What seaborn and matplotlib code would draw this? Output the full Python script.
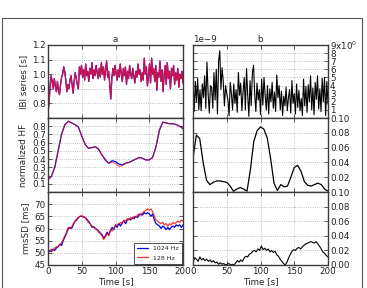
import numpy as np
import pandas as pd
import matplotlib
matplotlib.use("Agg")
import matplotlib.pyplot as plt
import seaborn as sns
from matplotlib.patches import Rectangle

# ---------------- data ----------------
ibi_128 = [0.74,0.80,0.92,0.99,0.95,0.90,0.97,0.92,0.88,0.95,0.89,0.86,0.93,0.98,1.00,1.05,1.02,0.96,0.88,0.93,
           0.90,0.96,0.99,0.93,0.87,0.95,1.01,0.97,0.93,0.90,1.05,1.00,1.06,0.98,1.03,0.96,1.07,0.99,1.02,0.95,
           1.04,1.00,1.08,0.97,1.03,0.99,1.06,1.01,0.97,1.04,0.98,1.08,1.00,1.05,0.96,1.03,1.09,0.98,1.02,0.93,
           0.83,0.97,1.04,0.99,1.06,1.01,0.96,1.03,0.98,1.07,1.00,0.95,1.04,0.99,1.05,0.93,1.02,0.97,1.06,1.00,
           0.97,1.04,0.99,0.94,1.02,0.98,1.07,1.00,1.03,0.95,1.01,0.96,1.11,1.00,1.05,0.92,0.99,1.07,0.94,1.11,
           1.00,1.04,0.95,1.06,0.89,1.01,0.98,1.09,0.95,1.03,0.88,1.00,1.06,0.93,1.08,0.97,1.02,0.90,1.04,0.99,
           1.06,0.93,1.01,0.96,1.04,0.91,1.00,0.97,1.02,0.94]

ibi_diff = [4.8,0.8,4.5,2.0,4.9,1.0,3.5,0.9,4.2,2.5,5.2,1.2,6.9,3.0,0.6,4.0,3.8,1.2,5.6,2.2,
            6.0,0.5,7.0,8.3,3.5,6.2,4.5,1.5,4.0,3.0,2.2,0.3,4.4,3.0,1.0,4.2,1.8,3.5,0.7,5.6,
            2.8,4.3,0.9,3.2,5.0,1.0,6.1,2.8,0.2,4.6,1.5,5.5,6.5,3.0,0.8,4.3,2.2,3.5,0.4,4.8,
            1.6,5.0,2.8,1.0,4.0,0.5,3.6,2.0,4.4,1.2,3.2,0.8,5.3,2.5,4.0,1.0,3.3,0.3,2.7,1.5,
            3.8,0.9,2.5,3.5,0.6,4.6,1.8,3.0,0.5,4.2,1.3,3.4,0.9,2.4,0.3,4.8,1.5,3.9,0.7,4.1,
            2.0,5.2,1.0,3.7,0.4,4.4,2.3,5.2,1.1,3.6,0.8,4.9,2.0,5.0,0.3,4.5,1.7]

hf_1024 = [0.15,0.19,0.30,0.50,0.70,0.82,0.86,0.84,0.82,0.79,0.68,0.58,0.53,0.54,0.55,0.52,0.45,0.39,0.35,0.38,
           0.37,0.34,0.33,0.35,0.36,0.38,0.40,0.42,0.41,0.39,0.39,0.42,0.55,0.75,0.85,0.84,0.83,0.83,0.82,0.80,0.77]
hf_128  = [0.15,0.19,0.30,0.50,0.70,0.82,0.86,0.84,0.82,0.79,0.68,0.58,0.53,0.54,0.55,0.52,0.45,0.39,0.35,0.36,
           0.35,0.31,0.32,0.35,0.36,0.38,0.40,0.42,0.41,0.39,0.39,0.42,0.55,0.75,0.85,0.84,0.83,0.83,0.82,0.80,0.77]

hf_diff = [0.046,0.077,0.072,0.040,0.016,0.010,0.013,0.015,0.015,0.014,0.013,0.008,0.001,0.004,0.006,0.004,0.001,
           0.030,0.068,0.083,0.088,0.085,0.073,0.045,0.012,0.002,0.010,0.007,0.008,0.020,0.033,0.036,0.028,
           0.014,0.009,0.008,0.010,0.012,0.010,0.004,0.001]

rmssd_1024 = [50.0,51.0,50.5,51.5,51.0,52.0,52.5,53.5,53.0,55.0,56.5,58.0,60.0,60.5,60.0,61.5,63.0,63.5,64.5,65.0,
              65.0,64.8,64.5,63.8,63.0,62.0,60.5,60.8,60.0,59.5,59.0,58.0,57.5,56.0,57.0,58.5,57.5,59.0,60.5,59.5,
              61.5,60.5,62.0,61.0,62.5,63.0,62.0,63.5,64.0,63.5,64.5,64.0,65.0,64.5,65.5,66.0,65.5,66.5,66.0,66.5,
              66.0,65.0,66.0,63.5,62.0,61.5,61.0,60.0,61.0,60.5,59.5,60.5,59.5,60.5,61.0,60.5,61.5,61.0,61.5,60.5,61.5]
rmssd_128 = [50.5,50.5,51.5,51.0,52.0,52.5,52.5,53.5,54.0,55.5,57.0,58.5,60.5,60.0,60.5,62.0,63.0,64.0,64.5,65.0,
             65.2,65.0,64.3,63.5,62.5,61.8,61.0,60.5,60.2,59.5,58.5,58.0,57.0,55.5,56.5,58.0,57.0,59.5,59.0,60.0,
             61.0,61.5,62.0,62.5,62.0,63.5,63.0,64.0,63.5,64.5,64.0,65.0,64.5,65.5,66.0,65.5,66.5,67.0,67.5,68.0,
             67.5,68.0,67.0,65.0,63.5,63.0,62.5,62.0,62.5,61.5,62.0,61.0,62.0,61.5,62.5,62.0,62.5,63.0,62.5,63.5,63.0]

rmssd_diff = [0.004,0.010,0.008,0.005,0.011,0.007,0.009,0.006,0.008,0.005,0.007,0.004,0.006,0.003,0.004,0.001,
              0.003,0.001,0.002,0.000,0.001,0.002,0.000,0.001,0.000,0.003,0.006,0.004,0.007,0.005,0.010,0.012,
              0.011,0.015,0.016,0.019,0.020,0.018,0.022,0.020,0.026,0.021,0.023,0.020,0.022,0.018,0.020,0.017,
              0.019,0.014,0.012,0.008,0.005,0.002,0.000,0.004,0.010,0.015,0.019,0.021,0.020,0.023,0.024,0.022,
              0.025,0.027,0.029,0.030,0.031,0.032,0.031,0.030,0.032,0.029,0.026,0.022,0.018,0.016,0.013,0.011]

def tgrid(vals):
    return np.linspace(0, 200, len(vals))

# ---------------- style ----------------
sns.set_style("white")
plt.rcParams['font.family'] = ['DejaVu Sans']
plt.rcParams['font.size'] = 6.5

fig = plt.figure(figsize=(3.67, 2.88), dpi=100)
fig.patches.append(Rectangle((2/367, -0.1), 360/367, 1.1 - 18/288, transform=fig.transFigure,
                             fill=False, edgecolor='#555555', linewidth=0.8, zorder=0))

L0, L1 = 48/367, 183/367
R0, R1 = 193/367, 328/367
ys = [1-118/288, 1-192/288, 1-265/288]
tops = [1-45/288, 1-118/288, 1-192/288]

axes = {}
for r in range(3):
    h = tops[r] - ys[r]
    axes[(r, 0)] = fig.add_axes([L0, ys[r], L1-L0, h])
    axes[(r, 1)] = fig.add_axes([R0, ys[r], R1-R0, h])

BLUE = '#0000ee'
RED = '#ee1111'
FS = 6.3

def style(ax, right=False):
    ax.set_xlim(0, 200)
    ax.set_xticks([0, 50, 100, 150, 200])
    ax.grid(True, color='#aaaaaa', linestyle=':', linewidth=0.6)
    for s in ax.spines.values():
        s.set_color('#3a3a3a')
        s.set_linewidth(1.0)
    ax.tick_params(direction='in', length=3, width=0.5, labelsize=FS, pad=1.5,
                   top=True, bottom=True, left=True, right=True, colors='#222222')
    if right:
        ax.yaxis.tick_right()
        ax.tick_params(left=True, right=True, labelleft=False, labelright=True)

# top-left
ax = axes[(0, 0)]
sns.lineplot(x=tgrid(ibi_128), y=np.array(ibi_128), ax=ax, color=BLUE, linewidth=0.9)
sns.lineplot(x=tgrid(ibi_128), y=np.array(ibi_128), ax=ax, color='#d0104a', linewidth=0.9)
style(ax)
ax.set_ylim(0.7, 1.2)
ax.set_yticks([0.8, 0.9, 1.0, 1.1, 1.2])
ax.set_ylabel('IBI series [s]', fontsize=FS, labelpad=3)
ax.set_title('a', fontsize=FS, pad=2)
ax.tick_params(labelbottom=False)

# top-right
ax = axes[(0, 1)]
sns.lineplot(x=tgrid(ibi_diff), y=np.array(ibi_diff), ax=ax, color='black', linewidth=0.8)
style(ax, right=True)
ax.set_ylim(0, 9)
ax.set_yticks([1, 2, 3, 4, 5, 6, 7, 8, 9])
ax.set_yticklabels(['1', '2', '3', '4', '5', '6', '7', '8', '9x10$^0$'])
ax.set_title('b', fontsize=FS, pad=2)
ax.text(0.0, 1.02, '1e\u22129', transform=ax.transAxes, fontsize=FS, ha='left', va='bottom')
ax.tick_params(labelbottom=False)

# middle-left
ax = axes[(1, 0)]
sns.lineplot(x=tgrid(hf_1024), y=np.array(hf_1024), ax=ax, color=BLUE, linewidth=0.9)
sns.lineplot(x=tgrid(hf_128), y=np.array(hf_128), ax=ax, color=RED, linewidth=0.9, alpha=0.6)
style(ax)
ax.set_ylim(0, 0.9)
ax.set_yticks([0.1, 0.2, 0.3, 0.4, 0.5, 0.6, 0.7, 0.8])
ax.set_ylabel('normalized HF', fontsize=FS, labelpad=3)
ax.tick_params(labelbottom=False)

# middle-right
ax = axes[(1, 1)]
sns.lineplot(x=tgrid(hf_diff), y=np.array(hf_diff), ax=ax, color='black', linewidth=0.9)
style(ax, right=True)
ax.set_ylim(0, 0.10)
ax.set_yticks([0.02, 0.04, 0.06, 0.08, 0.10])
ax.set_yticklabels(['0.02', '0.04', '0.06', '0.08', '0.10'])
ax.tick_params(labelbottom=False)

# bottom-left
ax = axes[(2, 0)]
sns.lineplot(x=tgrid(rmssd_1024), y=np.array(rmssd_1024), ax=ax, color=BLUE, linewidth=0.9, label='1024 Hz')
sns.lineplot(x=tgrid(rmssd_128), y=np.array(rmssd_128), ax=ax, color=RED, linewidth=0.9, alpha=0.85, label='128 Hz')
style(ax)
ax.set_ylim(45, 75)
ax.set_yticks([45, 50, 55, 60, 65, 70])
ax.set_ylabel('rmsSD [ms]', fontsize=FS, labelpad=3)
ax.set_xlabel('Time [s]', fontsize=FS, labelpad=0.5)
leg = ax.legend(loc='lower right', fontsize=4.5, frameon=True, fancybox=False,
                handlelength=1.8, borderaxespad=0.2, borderpad=0.5, labelspacing=0.6)
leg.get_frame().set_edgecolor('black')
leg.get_frame().set_linewidth(0.6)

# bottom-right
ax = axes[(2, 1)]
sns.lineplot(x=tgrid(rmssd_diff), y=np.array(rmssd_diff), ax=ax, color='black', linewidth=0.8)
style(ax, right=True)
ax.set_ylim(0, 0.10)
ax.set_yticks([0.0, 0.02, 0.04, 0.06, 0.08, 0.10])
ax.set_yticklabels(['0.00', '0.02', '0.04', '0.06', '0.08', '0.10'])
ax.set_xlabel('Time [s]', fontsize=FS, labelpad=0.5)

fig.savefig('out.png', dpi=100)
